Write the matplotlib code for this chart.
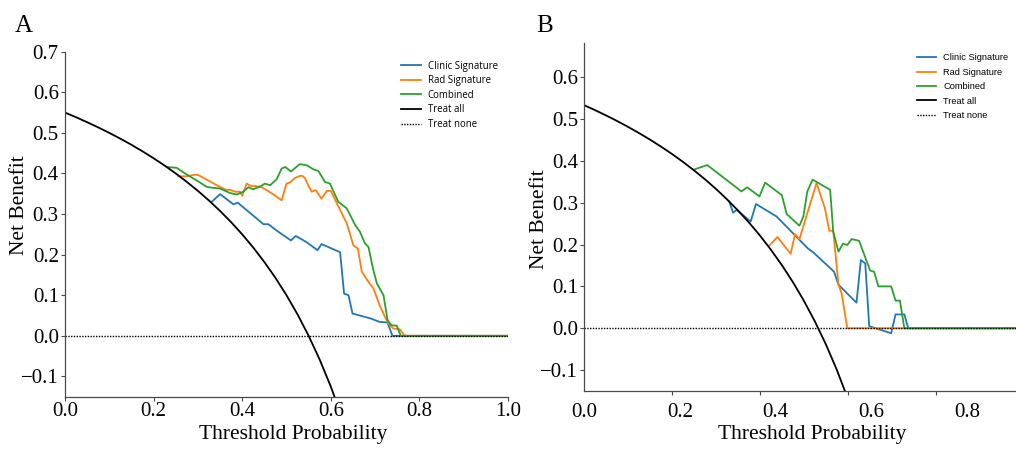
import matplotlib
matplotlib.use("Agg")
import matplotlib.pyplot as plt
import numpy as np

# ---------------- data ----------------
# Panel A
a_clinic_t = [0.331, 0.350, 0.361, 0.380, 0.390, 0.448, 0.459, 0.482, 0.510, 0.521, 0.545,
              0.570, 0.579, 0.621, 0.630, 0.640, 0.649, 0.689, 0.711, 0.728, 0.739, 1.0]
a_clinic_v = [0.330, 0.349, 0.340, 0.324, 0.328, 0.275, 0.275, 0.256, 0.235, 0.246, 0.231,
              0.211, 0.226, 0.206, 0.104, 0.100, 0.055, 0.043, 0.034, 0.033, 0.000, 0.0]

a_rad_t = [0.256, 0.275, 0.293, 0.301, 0.323, 0.346, 0.365, 0.372, 0.384, 0.395, 0.400,
           0.410, 0.420, 0.429, 0.444, 0.467, 0.489, 0.500, 0.508, 0.519, 0.530, 0.536,
           0.542, 0.549, 0.557, 0.566, 0.579, 0.591, 0.600, 0.621, 0.636, 0.651, 0.661,
           0.670, 0.685, 0.696, 0.710, 0.722, 0.730, 0.741, 0.756, 0.767, 1.0]
a_rad_v = [0.393, 0.393, 0.397, 0.396, 0.383, 0.369, 0.359, 0.360, 0.355, 0.355, 0.345,
           0.375, 0.369, 0.369, 0.366, 0.351, 0.334, 0.375, 0.378, 0.389, 0.394, 0.394,
           0.388, 0.371, 0.355, 0.359, 0.338, 0.357, 0.357, 0.310, 0.277, 0.223, 0.215,
           0.158, 0.133, 0.117, 0.076, 0.047, 0.031, 0.018, 0.016, 0.000, 0.0]

a_comb_t = [0.230, 0.252, 0.271, 0.297, 0.320, 0.331, 0.350, 0.372, 0.388, 0.402, 0.414,
            0.425, 0.444, 0.451, 0.463, 0.478, 0.489, 0.497, 0.510, 0.530, 0.546, 0.561,
            0.572, 0.587, 0.598, 0.617, 0.636, 0.655, 0.666, 0.677, 0.685, 0.696, 0.704,
            0.719, 0.728, 0.737, 0.749, 0.758, 1.0]
a_comb_v = [0.416, 0.414, 0.400, 0.383, 0.367, 0.365, 0.363, 0.352, 0.348, 0.355, 0.366,
            0.361, 0.370, 0.375, 0.371, 0.386, 0.412, 0.416, 0.405, 0.423, 0.420, 0.410,
            0.406, 0.379, 0.375, 0.330, 0.314, 0.273, 0.256, 0.228, 0.219, 0.162, 0.129,
            0.100, 0.039, 0.026, 0.025, 0.000, 0.0]

treat_t = [0.0, 0.025, 0.05, 0.075, 0.1, 0.125, 0.15, 0.175, 0.2, 0.225, 0.25, 0.275,
           0.3, 0.325, 0.35, 0.375, 0.4, 0.425, 0.45, 0.475, 0.5, 0.525, 0.55, 0.575,
           0.6, 0.625]
a_treat_all = [0.550, 0.5385, 0.5263, 0.5135, 0.500, 0.4857, 0.4706, 0.4545, 0.4375,
               0.4194, 0.400, 0.3793, 0.3571, 0.3333, 0.3077, 0.280, 0.250, 0.2174,
               0.1818, 0.1429, 0.100, 0.0526, 0.000, -0.0588, -0.125, -0.200]

# Panel B
b_clinic_t = [0.330, 0.339, 0.347, 0.379, 0.391, 0.438, 0.510, 0.522, 0.569, 0.579, 0.620,
              0.630, 0.640, 0.649, 0.699, 0.709, 0.729, 0.738, 1.0]
b_clinic_v = [0.303, 0.276, 0.283, 0.255, 0.297, 0.267, 0.190, 0.181, 0.135, 0.104, 0.061,
              0.163, 0.155, 0.005, -0.012, 0.033, 0.033, 0.000, 0.0]

b_rad_t = [0.421, 0.440, 0.470, 0.480, 0.490, 0.529, 0.548, 0.558, 0.567, 0.579, 0.586,
           0.599, 1.0]
b_rad_v = [0.197, 0.218, 0.178, 0.225, 0.213, 0.347, 0.287, 0.233, 0.233, 0.104, 0.084,
           0.000, 0.0]

b_comb_t = [0.252, 0.280, 0.358, 0.371, 0.399, 0.412, 0.450, 0.461, 0.490, 0.499, 0.508,
            0.520, 0.560, 0.567, 0.579, 0.589, 0.599, 0.609, 0.626, 0.651, 0.660, 0.670,
            0.699, 0.709, 0.719, 0.729, 1.0]
b_comb_v = [0.380, 0.390, 0.327, 0.337, 0.315, 0.348, 0.318, 0.273, 0.245, 0.267, 0.327,
            0.355, 0.331, 0.231, 0.183, 0.202, 0.199, 0.213, 0.209, 0.138, 0.135, 0.100,
            0.100, 0.066, 0.066, 0.000, 0.0]

b_treat_all = [0.533, 0.5210, 0.5084, 0.4951, 0.4811, 0.4663, 0.4506, 0.4339, 0.4163,
               0.3974, 0.3773, 0.3559, 0.3329, 0.3081, 0.2815, 0.2528, 0.2217, 0.1878,
               0.1509, 0.1105, 0.066, 0.0168, -0.0378, -0.0988, -0.1675, -0.245]

labels = ["Clinic Signature", "Rad Signature", "Combined", "Treat all", "Treat none"]
a_yticks = [-0.1, 0.0, 0.1, 0.2, 0.3, 0.4, 0.5, 0.6, 0.7]
b_yticks = [-0.1, 0.0, 0.1, 0.2, 0.3, 0.4, 0.5, 0.6]
a_xticks = [0.0, 0.2, 0.4, 0.6, 0.8, 1.0]
b_xticks = [0.0, 0.2, 0.4, 0.6, 0.8]

# ---------------- figure ----------------
W, H = 1016, 449
fig = plt.figure(figsize=(W / 100, H / 100), dpi=100)

serif = "Liberation Serif"
spine_col = "#4a4a4a"
c_blue, c_orange, c_green = "#1f77b4", "#ff7f0e", "#2ca02c"
lw = 1.3


def fmt(v):
    s = f"{v:.1f}"
    return s.replace("-", "\u2212")


def px_axes(l, r, t, b):
    return fig.add_axes([l / W, 1 - b / H, (r - l) / W, (b - t) / H])


def draw(ax, ct, cv, rt, rv, gt, gv, ta):
    ax.plot(ct, cv, color=c_blue, lw=lw, label=labels[0])
    ax.plot(rt, rv, color=c_orange, lw=lw, label=labels[1])
    ax.plot(gt, gv, color=c_green, lw=lw, label=labels[2])
    ax.plot(treat_t, ta, color="black", lw=lw, label=labels[3])
    ax.plot([0, 1.0], [0, 0], color="black", lw=1.0, ls=(0, (1, 1)), label=labels[4])
    for s in ["top", "right"]:
        ax.spines[s].set_visible(False)
    for s in ["left", "bottom"]:
        ax.spines[s].set_color(spine_col)
        ax.spines[s].set_linewidth(0.9)
    ax.tick_params(axis="both", which="both", colors=spine_col, labelcolor="black",
                   width=0.8, length=3, labelsize=15)


# ---- Panel A ----
axA = px_axes(65, 508, 51.7, 396.7)
draw(axA, a_clinic_t, a_clinic_v, a_rad_t, a_rad_v, a_comb_t, a_comb_v, a_treat_all)
axA.set_xlim(0, 1.0)
axA.set_ylim(-0.15, 0.7)
axA.set_xticks(a_xticks, [fmt(v) for v in a_xticks], fontfamily=serif)
axA.set_yticks(a_yticks, [fmt(v) for v in a_yticks], fontfamily=serif)
axA.tick_params(axis="x", pad=1.0)
axA.tick_params(axis="y", pad=1.5)
axA.set_xlabel("Threshold Probability", fontfamily=serif, fontsize=15.5)
axA.set_ylabel("Net Benefit", fontfamily=serif, fontsize=15.5)
axA.xaxis.set_label_coords(0.515, -0.082)
axA.yaxis.set_label_coords(-0.082, 0.556)
legA = axA.legend(loc="upper left", bbox_to_anchor=(401 / W, 1 - 60.5 / H),
                  bbox_transform=fig.transFigure, frameon=False, borderpad=0,
                  borderaxespad=0, handlelength=2.05, handletextpad=0.72,
                  labelspacing=0.38, prop={"family": "Open Sans", "size": 6.9})

# ---- Panel B ----
xmaxB = (W - 584.3) / 439.0
axB = px_axes(584.3, W, 43.3, 391)
draw(axB, b_clinic_t, b_clinic_v, b_rad_t, b_rad_v, b_comb_t, b_comb_v, b_treat_all)
axB.set_xlim(0, xmaxB)
axB.set_ylim(-0.15, 0.681)
# tick marks at the true positions, labels drawn slightly spread as in the reference
axB.set_xticks(b_xticks, minor=True)
axB.set_xticks([v * 1.09 for v in b_xticks], [fmt(v) for v in b_xticks], fontfamily=serif)
axB.tick_params(axis="x", which="major", length=0, pad=8.5)
axB.tick_params(axis="x", which="minor", length=3)
axB.set_yticks(b_yticks, [fmt(v) for v in b_yticks], fontfamily=serif)
axB.tick_params(axis="y", pad=1.5)
axB.set_xlabel("Threshold Probability", fontfamily=serif, fontsize=15.5)
axB.set_ylabel("Net Benefit", fontfamily=serif, fontsize=15.5)
axB.xaxis.set_label_coords(0.527, -0.098)
axB.yaxis.set_label_coords(-0.082, 0.495)
legB = axB.legend(loc="upper left", bbox_to_anchor=(916.7 / W, 1 - 53.5 / H),
                  bbox_transform=fig.transFigure, frameon=False, borderpad=0,
                  borderaxespad=0, handlelength=2.08, handletextpad=0.78,
                  labelspacing=0.58, prop={"family": "Liberation Sans", "size": 6.7})

# panel letters
fig.text(15 / W, 1 - 31.7 / H, "A", fontfamily=serif, fontsize=18, va="baseline", ha="left")
fig.text(536 / W, 1 - 31.7 / H, "B", fontfamily=serif, fontsize=18, va="baseline", ha="left")

fig.savefig("out.png", dpi=100)
